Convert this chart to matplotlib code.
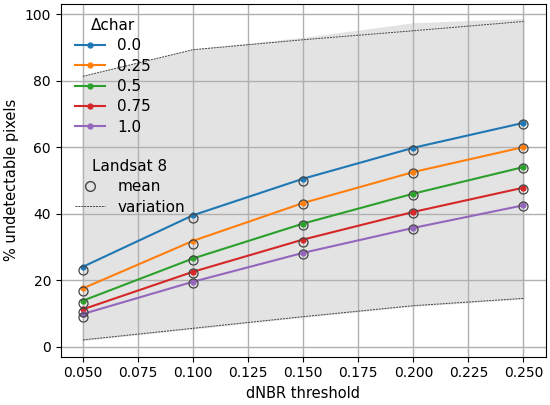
import matplotlib.pyplot as plt
from matplotlib.lines import Line2D

x = [0.05, 0.10, 0.15, 0.20, 0.25]
dchar = ['0.0', '0.25', '0.5', '0.75', '1.0']
colors = ['#1f77b4', '#ff7f0e', '#2ca02c', '#d62728', '#9467bd']

fit = [
    [24.0, 39.5, 50.5, 59.8, 67.3],
    [17.5, 31.8, 43.2, 52.5, 60.0],
    [13.8, 26.5, 37.0, 46.0, 54.0],
    [11.2, 22.5, 32.2, 40.5, 47.8],
    [9.8, 19.5, 28.2, 35.7, 42.5],
]
mean = [
    [23.0, 38.7, 49.7, 59.2, 67.0],
    [16.8, 31.0, 42.8, 52.2, 59.7],
    [13.0, 26.0, 36.6, 45.6, 53.7],
    [10.5, 22.0, 31.6, 40.2, 47.4],
    [9.0, 19.0, 27.7, 35.4, 42.2],
]
upper = [81.3, 89.3, 92.3, 95.0, 97.8]
upper_fill = [81.3, 89.3, 92.8, 97.2, 98.5]
lower = [2.0, 5.5, 9.0, 12.3, 14.5]

fig, ax = plt.subplots(figsize=(5.5, 4.05), dpi=100)
ax.fill_between(x, lower, upper_fill, color='#e3e3e3', zorder=0)
ax.plot(x, upper, color='#444444', linestyle=(0, (2, 1)), linewidth=0.7, zorder=1)
ax.plot(x, lower, color='#444444', linestyle=(0, (2, 1)), linewidth=0.7, zorder=1)

handles = []
for lab, c, f, m in zip(dchar, colors, fit, mean):
    h, = ax.plot(x, f, color=c, marker='o', markersize=3.5, label=lab, zorder=3)
    ax.plot(x, m, linestyle='none', marker='o', markersize=6.5, markerfacecolor='none',
            markeredgecolor='#444444', markeredgewidth=0.9, zorder=4)
    handles.append(h)

ax.set_xlabel('dNBR threshold', fontsize=10.5)
ax.set_ylabel('% undetectable pixels', fontsize=10.5)
ax.set_xticks([0.05, 0.075, 0.1, 0.125, 0.15, 0.175, 0.2, 0.225, 0.25])
ax.set_xlim(0.04, 0.26)
ax.set_ylim(-3, 103)
ax.tick_params(labelsize=10)
ax.grid(True, color='#b0b0b0', linewidth=1)
ax.set_axisbelow(True)

leg1 = ax.legend(handles=handles, title='Δchar', loc='upper left', frameon=False,
                 bbox_to_anchor=(0.0, 1.0), fontsize=11, title_fontsize=11,
                 labelspacing=0.35)
ax.add_artist(leg1)
h2 = [Line2D([], [], linestyle='none', marker='o', markerfacecolor='none',
             markeredgecolor='#444444', markersize=7),
      Line2D([], [], color='#444444', linestyle=(0, (2, 1)), linewidth=0.7)]
ax.legend(h2, ['mean', 'variation'], title='Landsat 8', loc='upper left', frameon=False,
          bbox_to_anchor=(0.0, 0.6), fontsize=11, title_fontsize=11, labelspacing=0.35)

plt.tight_layout(pad=0.3)
plt.savefig('out.png', dpi=100)
